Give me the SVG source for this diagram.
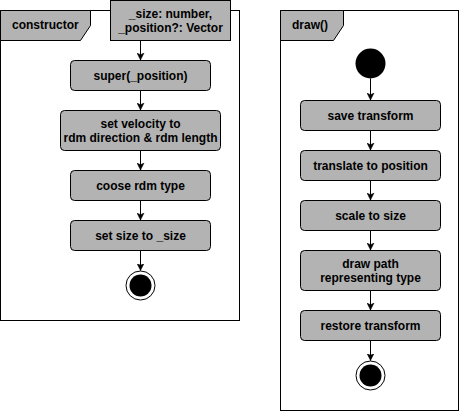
<svg xmlns="http://www.w3.org/2000/svg" width="460" height="411" viewBox="0 0 460 411">
<defs>
<style>
.frame{fill:#fff;stroke:#000;stroke-width:1}
.tab{fill:#B3B3B3;stroke:#000;stroke-width:1}
.act{fill:#B3B3B3;stroke:#000;stroke-width:1}
.t{font-family:"Liberation Sans",Arial,sans-serif;font-size:12px;font-weight:bold;fill:#000;text-anchor:middle}
.tl{font-family:"Liberation Sans",Arial,sans-serif;font-size:12px;font-weight:bold;fill:#000}
.edge{stroke:#000;stroke-width:1;fill:none}
</style>
<marker id="ah" markerWidth="8" markerHeight="8" refX="7" refY="4" orient="auto" markerUnits="userSpaceOnUse">
<path d="M0,0.5 L7,4 L0,7.5 L1.8,4 Z" fill="#000" stroke="#000" stroke-width="0.5"/>
</marker>
</defs>
<g id="frame-constructor">
<rect class="frame" x="0.5" y="10.5" width="239" height="310"/>
<path class="tab" d="M0.5,10.5 H90.5 V25.5 L80.5,40.5 H0.5 Z"/>
<text class="tl" x="12" y="29">constructor</text>
</g>
<g id="params">
<rect class="act" x="110.5" y="0.5" width="120" height="40"/>
<text class="t" x="170.5" y="18">_size: number,</text>
<text class="t" x="170.5" y="32">_position?: Vector</text>
</g>
<g id="super">
<rect class="act" x="70.5" y="60.5" width="140" height="30" rx="4"/>
<text class="t" x="140.5" y="80">super(_position)</text>
</g>
<g id="velocity">
<rect class="act" x="60.5" y="110.5" width="160" height="40" rx="4"/>
<text class="t" x="140.5" y="128">set velocity to</text>
<text class="t" x="140.5" y="142">rdm direction &amp; rdm length</text>
</g>
<g id="type">
<rect class="act" x="70.5" y="170.5" width="140" height="30" rx="4"/>
<text class="t" x="140.5" y="190">coose rdm type</text>
</g>
<g id="size">
<rect class="act" x="70.5" y="220.5" width="140" height="30" rx="4"/>
<text class="t" x="140.5" y="240">set size to _size</text>
</g>
<g id="end1">
<circle cx="140.5" cy="285.5" r="14.5" fill="#fff" stroke="#000" stroke-width="1"/>
<circle cx="140.5" cy="285.5" r="11" fill="#000"/>
</g>
<g id="frame-draw">
<rect class="frame" x="280.5" y="10.5" width="178" height="400"/>
<path class="tab" d="M280.5,10.5 H343.5 V25.5 L333.5,40.5 H280.5 Z"/>
<text class="tl" x="292" y="29">draw()</text>
</g>
<g id="start2">
<circle cx="370.5" cy="63.5" r="15" fill="#000"/>
</g>
<g id="save">
<rect class="act" x="300.5" y="100.5" width="140" height="30" rx="4"/>
<text class="t" x="370.5" y="120">save transform</text>
</g>
<g id="translate">
<rect class="act" x="300.5" y="150.5" width="140" height="30" rx="4"/>
<text class="t" x="370.5" y="170">translate to position</text>
</g>
<g id="scale">
<rect class="act" x="300.5" y="200.5" width="140" height="30" rx="4"/>
<text class="t" x="370.5" y="220">scale to size</text>
</g>
<g id="drawpath">
<rect class="act" x="300.5" y="250.5" width="140" height="40" rx="4"/>
<text class="t" x="370.5" y="268">draw path</text>
<text class="t" x="370.5" y="282">representing type</text>
</g>
<g id="restore">
<rect class="act" x="300.5" y="310.5" width="140" height="30" rx="4"/>
<text class="t" x="370.5" y="330">restore transform</text>
</g>
<g id="end2">
<circle cx="370.5" cy="375.5" r="14.5" fill="#fff" stroke="#000" stroke-width="1"/>
<circle cx="370.5" cy="375.5" r="11" fill="#000"/>
</g>
<g id="connectors">
<path class="edge" d="M140.5,40.5 V60" marker-end="url(#ah)"/>
<path class="edge" d="M140.5,90.5 V110" marker-end="url(#ah)"/>
<path class="edge" d="M140.5,150.5 V170" marker-end="url(#ah)"/>
<path class="edge" d="M140.5,200.5 V220" marker-end="url(#ah)"/>
<path class="edge" d="M140.5,250.5 V270.5" marker-end="url(#ah)"/>
<path class="edge" d="M370.5,78.5 V100" marker-end="url(#ah)"/>
<path class="edge" d="M370.5,130.5 V150" marker-end="url(#ah)"/>
<path class="edge" d="M370.5,180.5 V200" marker-end="url(#ah)"/>
<path class="edge" d="M370.5,230.5 V250" marker-end="url(#ah)"/>
<path class="edge" d="M370.5,290.5 V310" marker-end="url(#ah)"/>
<path class="edge" d="M370.5,340.5 V360.5" marker-end="url(#ah)"/>
</g>
</svg>
